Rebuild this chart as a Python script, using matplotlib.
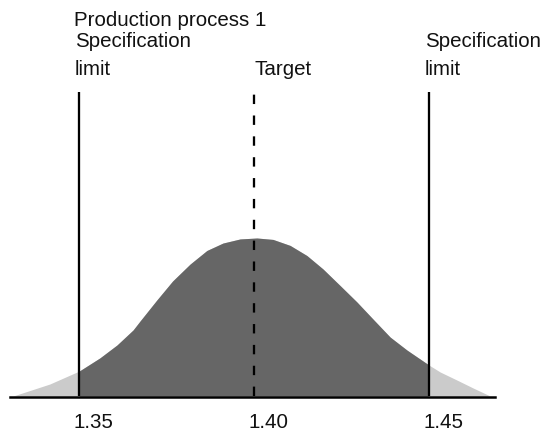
import matplotlib
matplotlib.use("Agg")
import matplotlib.pyplot as plt
import matplotlib.transforms as mtransforms
import numpy as np

# curve (x value, relative height with peak = 1)
curve_x = [1.3311, 1.3416, 1.3500, 1.3559, 1.3608, 1.3654, 1.3674, 1.3722,
           1.3767, 1.3817, 1.3865, 1.3911, 1.3960, 1.4008, 1.4054, 1.4103,
           1.4151, 1.4197, 1.4246, 1.4294, 1.4340, 1.4389, 1.4437, 1.4500,
           1.4532, 1.4580, 1.4626, 1.4675]
curve_h = [0.000, 0.076, 0.158, 0.241, 0.323, 0.418, 0.475, 0.608,
           0.728, 0.835, 0.921, 0.968, 0.994, 1.000, 0.991, 0.953,
           0.889, 0.804, 0.699, 0.595, 0.487, 0.373, 0.291, 0.196,
           0.152, 0.101, 0.051, 0.000]

lower_limit = 1.35
upper_limit = 1.45
target = 1.40

tick_vals = [1.35, 1.40, 1.45]
tick_labels = ["1.35", "1.40", "1.45"]

title = "Production process 1"

W, H, DPI = 546, 432, 100
FS = 14.8
FONT = "Liberation Sans"

fig = plt.figure(figsize=(W / DPI, H / DPI), dpi=DPI)
ax = fig.add_axes([0, 0, 1, 1])
ax.set_xlim(1.32734, 1.48347)
ax.set_ylim(-36 / 158, 396 / 158)
ax.axis("off")

x = np.array(curve_x)
h = np.array(curve_h)

# light tails, dark part inside the limits
ax.fill_between(x, 0, h, color="#cbcbcb", lw=0)
inside = (x >= lower_limit) & (x <= upper_limit)
ax.fill_between(x, 0, h, where=inside, color="#666666", lw=0)

line_top = (396 - 92) / 158
ax.plot([lower_limit, lower_limit], [0, line_top], color="black", lw=1.65, solid_capstyle="butt")
ax.plot([upper_limit, upper_limit], [0, line_top], color="black", lw=1.65, solid_capstyle="butt")
ax.plot([target, target], [0, line_top], color="black", lw=1.65,
        ls=(0, (4.1, 5.0)), dash_capstyle="butt")

# base line
ax.axhline(-1 / 158, xmin=10 / W, xmax=495 / W, color="black", lw=1.8)

# tick labels under the axis
for v, lab in zip(tick_vals, tick_labels):
    tr = ax.transData + mtransforms.ScaledTranslation(-5.5 / DPI, -32 / DPI, fig.dpi_scale_trans)
    ax.text(v, 0, lab, transform=tr, ha="left", va="baseline",
            fontsize=FS, family=FONT, color="#111111")


def px_text(xp, yp, s):
    fig.text(xp / W, 1 - yp / H, s, ha="left", va="baseline",
             fontsize=FS, family=FONT, color="#111111")


px_text(74.5, 26, title)
px_text(75, 47, "Specification")
px_text(75, 75, "limit")
px_text(254.5, 75, "Target")
px_text(425, 47, "Specification")
px_text(425, 75, "limit")

fig.savefig("out.png", dpi=DPI)
